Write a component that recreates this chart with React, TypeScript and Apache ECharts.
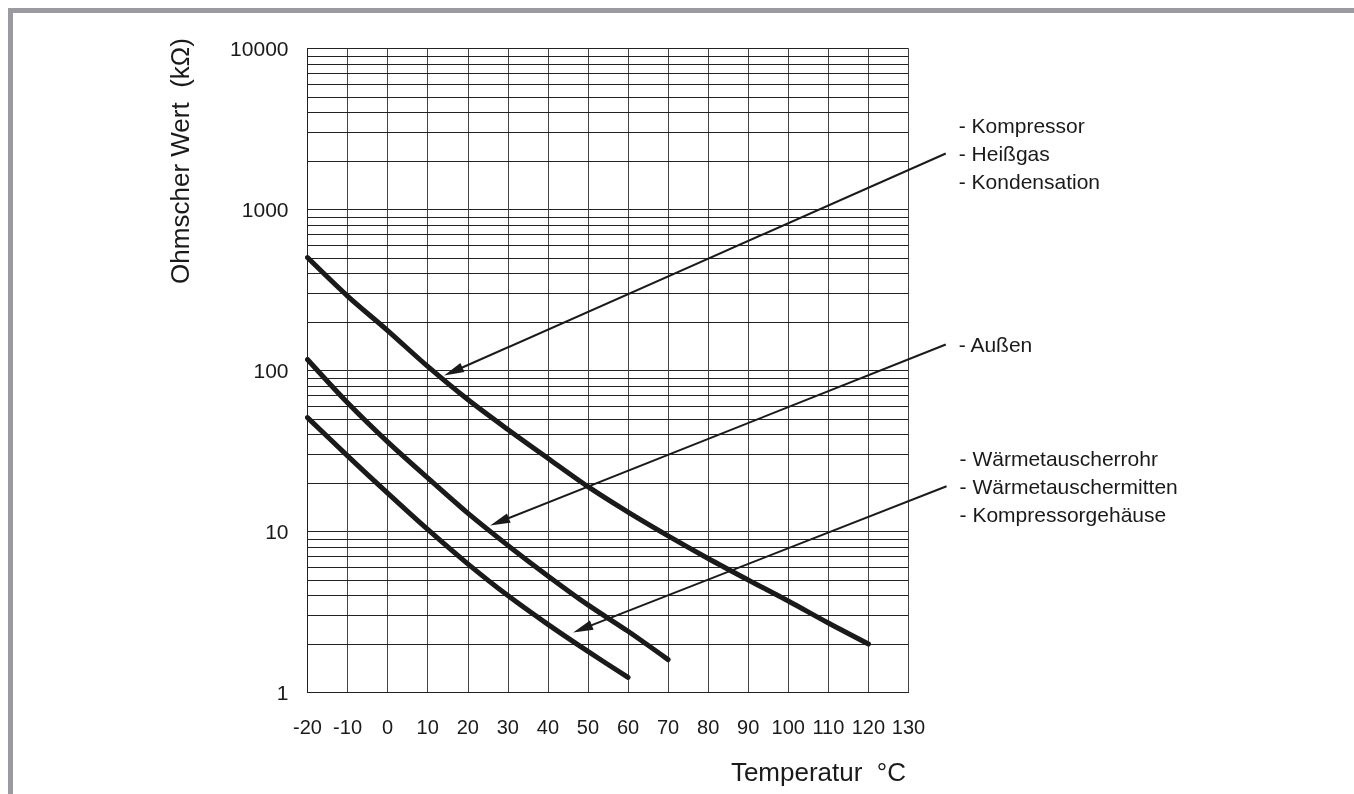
import React, { useEffect, useRef } from "react";
import * as echarts from "echarts";

// ---- data ----
const temps = [-20, -10, 0, 10, 20, 30, 40, 50, 60, 70, 80, 90, 100, 110, 120];
const curveA = [503, 290, 177, 106, 66, 43, 28.5, 19, 13.2, 9.4, 6.8, 5.0, 3.7, 2.7, 2.0];
const curveB = [117, 63, 36, 21.5, 13, 8.2, 5.3, 3.5, 2.4, 1.6];
const curveC = [51, 29.5, 17.3, 10.3, 6.3, 4.0, 2.65, 1.8, 1.24];

const minorLines = [
  2, 3, 4, 5, 6, 7, 8, 9,
  20, 30, 40, 50, 60, 70, 80, 90,
  200, 300, 400, 500, 600, 700, 800, 900,
  2000, 3000, 4000, 5000, 6000, 7000, 8000, 9000,
];

const labelsA = ["- Kompressor", "- Heißgas", "- Kondensation"];
const labelsB = ["- Außen"];
const labelsC = ["- Wärmetauscherrohr", "- Wärmetauschermitten", "- Kompressorgehäuse"];
// arrow tail (near label) and tip (on curve) in data coordinates [°C, kΩ]
const arrowTails = [
  [139.3, 2228],
  [139.3, 145],
  [139.5, 19.1],
];
const arrowTips = [
  [14.1, 93],
  [25.6, 10.9],
  [46.3, 2.36],
];
const labelGroups = [labelsA, labelsB, labelsC];

const yAxisName = "Ohmscher Wert\u00a0\u00a0(kΩ)";
const xAxisName = "Temperatur\u00a0\u00a0°C";

const FONT = '"Liberation Sans", Arial, Helvetica, sans-serif';
const INK = "#1a1a1a";

function pairs(vals: number[]) {
  return vals.map((v, i) => [temps[i], v]);
}

export default function App() {
  const ref = useRef<HTMLDivElement>(null);

  useEffect(() => {
    const chart = echarts.init(ref.current!, undefined, { renderer: "svg" });
    const curveStyle = { color: INK, width: 5, cap: "round" };
    const option: any = {
      animation: false,
      backgroundColor: "transparent",
      grid: { left: 307.5, top: 48.5, width: 601, height: 644 },
      xAxis: {
        type: "value",
        min: -20,
        max: 130,
        interval: 10,
        axisLine: { show: true, onZero: false, lineStyle: { color: "#222", width: 1 } },
        axisTick: { show: false },
        splitLine: { show: true, lineStyle: { color: "#444", width: 1 } },
        axisLabel: { margin: 24, fontSize: 20, color: INK, fontFamily: FONT },
      },
      yAxis: {
        type: "log",
        logBase: 10,
        min: 1,
        max: 10000,
        axisLine: { show: true, onZero: false, lineStyle: { color: "#222", width: 1 } },
        axisTick: { show: false },
        splitLine: { show: true, lineStyle: { color: "#222", width: 1 } },
        axisLabel: {
          margin: 19,
          fontSize: 21,
          color: INK,
          fontFamily: FONT,
          formatter: (v: number) => String(Math.round(v)),
        },
      },
      series: [
        {
          type: "line",
          name: "Kompressor",
          data: pairs(curveA),
          showSymbol: false,
          smooth: 0.3,
          lineStyle: curveStyle,
          z: 5,
          markLine: {
            silent: true,
            symbol: ["none", "none"],
            label: { show: false },
            lineStyle: { color: "#222", width: 1, type: "solid" },
            emphasis: { disabled: true },
            data: minorLines.map((v) => ({ yAxis: v })),
            z: 1,
          },
        },
        {
          type: "line",
          name: "Außen",
          data: pairs(curveB),
          showSymbol: false,
          smooth: 0.3,
          lineStyle: curveStyle,
          z: 5,
        },
        {
          type: "line",
          name: "Wärmetauscher",
          data: pairs(curveC),
          showSymbol: false,
          smooth: 0.3,
          lineStyle: curveStyle,
          z: 5,
        },
      ],
    };
    chart.setOption(option);

    const px = (p: number[]) => chart.convertToPixel({ gridIndex: 0 }, p) as number[];
    const graphics: any[] = [];
    arrowTails.forEach((tail, i) => {
      const [sx, sy] = px(tail);
      const [tx, ty] = px(arrowTips[i]);
      const dx = sx - tx;
      const dy = sy - ty;
      const L = Math.hypot(dx, dy);
      const ux = dx / L;
      const uy = dy / L;
      const hl = 20;
      const hw = 5;
      const bx = tx + ux * hl;
      const by = ty + uy * hl;
      graphics.push({
        type: "line",
        shape: { x1: sx, y1: sy, x2: bx - ux * 2, y2: by - uy * 2 },
        style: { stroke: INK, lineWidth: 2 },
        z: 10,
      });
      graphics.push({
        type: "polygon",
        shape: {
          points: [
            [tx, ty],
            [bx - uy * hw, by + ux * hw],
            [bx + uy * hw, by - ux * hw],
          ],
        },
        style: { fill: INK },
        z: 10,
      });
      graphics.push({
        type: "text",
        x: sx + 13,
        y: sy,
        style: {
          text: labelGroups[i].join("\n"),
          fontSize: 21,
          fontFamily: FONT,
          fill: INK,
          align: "left",
          verticalAlign: "middle",
          lineHeight: 28,
        },
        z: 10,
      });
    });
    graphics.push({
      type: "text",
      x: 180,
      y: 161,
      rotation: Math.PI / 2,
      style: {
        text: yAxisName,
        fontSize: 26,
        fontFamily: FONT,
        fill: INK,
        align: "center",
        verticalAlign: "middle",
      },
    });
    graphics.push({
      type: "text",
      x: 906,
      y: 772,
      style: {
        text: xAxisName,
        fontSize: 26,
        fontFamily: FONT,
        fill: INK,
        align: "right",
        verticalAlign: "middle",
      },
    });
    chart.setOption({ graphic: graphics });

    return () => chart.dispose();
  }, []);

  return (
    <div>
      <div
        style={{
          position: "fixed",
          left: 8,
          top: 8,
          width: 1346,
          height: 786,
          borderLeft: "5px solid #9a9aa0",
          borderTop: "5px solid #9a9aa0",
          boxSizing: "border-box",
        }}
      />
      <div ref={ref} style={{ position: "fixed", left: 0, top: 0, width: 1354, height: 794 }} />
    </div>
  );
}
